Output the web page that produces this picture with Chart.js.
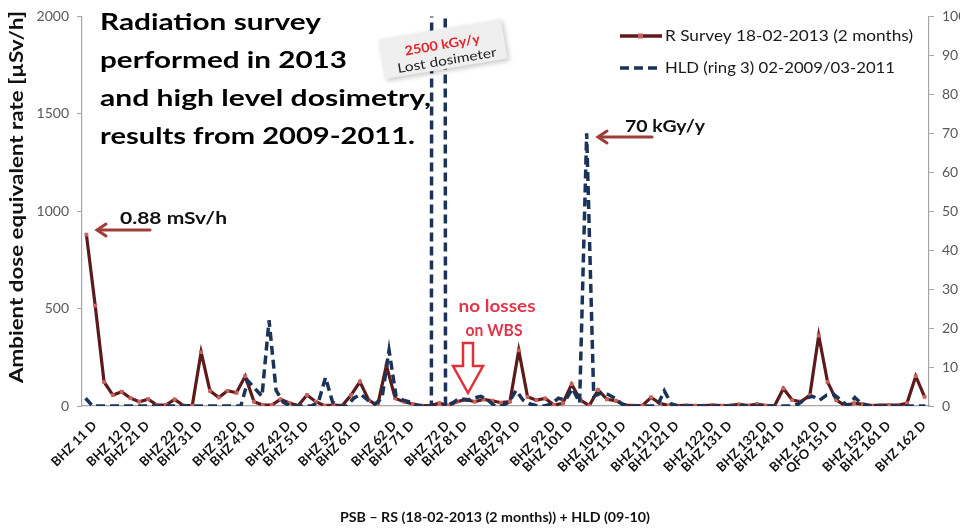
<!DOCTYPE html>
<html>
<head>
<meta charset="utf-8">
<script src="https://cdn.jsdelivr.net/npm/chart.js@4.4.1/dist/chart.umd.min.js"></script>
<style>
  html, body { margin: 0; padding: 0; background: #ffffff; overflow: hidden; width: 960px; height: 529px; }
  #wrap { width: 985px; height: 529px; }
</style>
</head>
<body>
<div id="wrap"><canvas id="c" width="985" height="529"></canvas></div>
<script>
// Survey positions along the ring (unlabelled slots are intermediate measuring points)
const categories = [
  'BHZ 11 D', '', '', '', 'BHZ 12 D', '', 'BHZ 21 D', '', '', '',
  'BHZ 22 D', '', 'BHZ 31 D', '', '', '', 'BHZ 32 D', '', 'BHZ 41 D', '',
  '', '', 'BHZ 42 D', '', 'BHZ 51 D', '', '', '', 'BHZ 52 D', '',
  'BHZ 61 D', '', '', '', 'BHZ 62 D', '', 'BHZ 71 D', '', '', '',
  'BHZ 72 D', '', 'BHZ 81 D', '', '', '', 'BHZ 82 D', '', 'BHZ 91 D', '',
  '', '', 'BHZ 92 D', '', 'BHZ 101 D', '', '', '', 'BHZ 102 D', '',
  'BHZ 111 D', '', '', '', 'BHZ 112 D', '', 'BHZ 121 D', '', '', '',
  'BHZ 122 D', '', 'BHZ 131 D', '', '', '', 'BHZ 132 D', '', 'BHZ 141 D', '',
  '', '', 'BHZ 142 D', '', 'QFO 151 D', '', '', '', 'BHZ 152 D', '',
  'BHZ 161 D', '', '', '', 'BHZ 162 D', ''
];

// Radiation survey 18-02-2013, ambient dose equivalent rate [µSv/h]
const surveyRate = [
  880, 515, 124, 56, 73, 40, 22, 35, 5, 5,
  34, 2, 2, 277, 78, 44, 78, 68, 153, 22,
  5, 5, 34, 15, 2, 56, 22, 2, 5, 2,
  56, 124, 30, 2, 209, 39, 22, 10, 2, 2,
  14, 2, 22, 34, 22, 34, 27, 17, 22, 286,
  47, 30, 39, 5, 14, 112, 30, 2, 82, 34,
  27, 5, 2, 2, 44, 14, 2, 2, 3, 2,
  2, 4, 2, 3, 8, 2, 10, 2, 1, 90,
  30, 22, 56, 362, 124, 30, 2, 14, 10, 2,
  5, 5, 5, 14, 153, 47
];

// High level dosimetry, ring 3, 02-2009 to 03-2011 [kGy/y]
const hldDose = [
  2, 0, 0, 0, 0, 0, 0, 0, 0, 0,
  0, 0, 0, 0, 0, 0, 0, 0, 0, 0,
  0, 0, 0, 6.5, 4.5, 2.5, 22, 4, 1, 0,
  0, 0, 0, 1, 7.3, 1, 0, 0, 2, 3,
  1.5, 0.5, 2, 14.3, 2.5, 1.5, 1, 0, 0, 0,
  2500, 0, 0.8, 2, 1.5, 2, 2.5, 1.5, 0, 0,
  1, 4, 1.5, 0.5, 0, 0, 0.5, 2, 1.5, 4.5,
  0.8, 70, 2.5, 3.3, 3, 2, 0.5, 0, 0, 0,
  0, 0, 3.9, 0.5, 0, 0, 0, 0, 0, 0,
  0, 0, 0, 0, 0, 0, 0, 0, 0, 0,
  0, 0.5, 2, 2.5, 1.5, 2.8, 3, 1.5, 0, 2.2,
  0.5, 0, 0, 0, 0, 0, 0, 0, 0, 0
];
const hldDosimeters = hldDose.map((_, i) => 'HLD ' + (i + 1));

const titleLines = ['Radiation survey', 'performed in 2013', 'and high level dosimetry,', 'results from 2009-2011.'];
const surveyLabel = 'R Survey 18-02-2013 (2 months)';
const hldLabel = 'HLD (ring 3) 02-2009/03-2011';
const yTitle = 'Ambient dose equivalent rate [\u00B5Sv/h]';
const caption = 'PSB \u2013 RS (18-02-2013 (2 months)) + HLD (09-10)';

const MAROON = '#5c1a1a';
const SALMON = '#c9625d';
const NAVY = '#1b3358';
const ARROW = '#a03c38';
const FONT = 'Lato, "Open Sans", sans-serif';

// Draw text stretched horizontally to a given width
function fitText(ctx, text, x, y, width, align) {
  const w = ctx.measureText(text).width;
  const left = align === 'center' ? x - width / 2 : x;
  ctx.save();
  ctx.translate(left, y);
  ctx.scale(width / w, 1);
  ctx.textAlign = 'left';
  ctx.fillText(text, 0, 0);
  ctx.restore();
}

function arrowLeft(ctx, x1, x2, y) {
  ctx.save();
  ctx.strokeStyle = ARROW;
  ctx.lineWidth = 3;
  ctx.lineCap = 'round';
  ctx.beginPath();
  ctx.moveTo(x1, y);
  ctx.lineTo(x2 + 1, y);
  ctx.stroke();
  ctx.beginPath();
  ctx.moveTo(x2 + 9, y - 6);
  ctx.lineTo(x2, y);
  ctx.lineTo(x2 + 9, y + 6);
  ctx.stroke();
  ctx.restore();
}

const overlay = {
  id: 'overlay',
  afterDraw(chart) {
    const ctx = chart.ctx;
    ctx.save();

    // heading
    ctx.fillStyle = '#000';
    ctx.font = 'bold 23px ' + FONT;
    ctx.textBaseline = 'alphabetic';
    const baselines = [29.5, 68, 106, 143.5];
    const widths = [221, 247, 331, 315];
    titleLines.forEach((t, i) => fitText(ctx, t, 100, baselines[i], widths[i], 'left'));

    // left axis title
    ctx.save();
    ctx.translate(17, 197);
    ctx.rotate(-Math.PI / 2);
    ctx.font = 'bold 19px ' + FONT;
    ctx.textBaseline = 'middle';
    ctx.fillStyle = '#111';
    fitText(ctx, yTitle, 0, 0, 372, 'center');
    ctx.restore();

    // legend
    ctx.lineCap = 'butt';
    ctx.strokeStyle = MAROON;
    ctx.lineWidth = 3.5;
    ctx.beginPath(); ctx.moveTo(620, 36); ctx.lineTo(662, 36); ctx.stroke();
    ctx.fillStyle = SALMON;
    ctx.fillRect(638, 33.5, 5, 5);
    ctx.strokeStyle = NAVY;
    ctx.setLineDash([9, 5]);
    ctx.beginPath(); ctx.moveTo(620, 68); ctx.lineTo(658, 68); ctx.stroke();
    ctx.setLineDash([]);
    ctx.fillStyle = '#1a1a1a';
    ctx.font = '16px ' + FONT;
    ctx.textBaseline = 'middle';
    fitText(ctx, surveyLabel, 665, 36, 248, 'left');
    fitText(ctx, hldLabel, 665, 68, 230, 'left');

    // peak call-outs
    ctx.fillStyle = '#111';
    ctx.font = 'bold 17px ' + FONT;
    fitText(ctx, '0.88 mSv/h', 120, 219, 107, 'left');
    arrowLeft(ctx, 150, 97, 230);
    fitText(ctx, '70 kGy/y', 625, 127, 80, 'left');
    arrowLeft(ctx, 652, 598, 137);

    // lost dosimeter tag
    ctx.save();
    ctx.translate(443, 49);
    ctx.rotate(-9.5 * Math.PI / 180);
    ctx.shadowColor = 'rgba(0,0,0,0.22)';
    ctx.shadowBlur = 5;
    ctx.shadowOffsetX = 2;
    ctx.shadowOffsetY = 2;
    ctx.fillStyle = '#efefef';
    ctx.fillRect(-62, -20, 124, 40);
    ctx.shadowColor = 'transparent';
    ctx.fillStyle = '#e3262b';
    ctx.font = 'bold 13px ' + FONT;
    fitText(ctx, '2500 kGy/y', 0, -4, 76, 'center');
    ctx.fillStyle = '#222';
    ctx.font = '13px ' + FONT;
    fitText(ctx, 'Lost dosimeter', 2, 12, 100, 'center');
    ctx.restore();

    // WBS note and hollow arrow
    ctx.fillStyle = '#e0354a';
    ctx.font = 'bold 17px ' + FONT;
    fitText(ctx, 'no losses', 497, 307, 77, 'center');
    fitText(ctx, 'on WBS', 494, 331, 57, 'center');
    ctx.beginPath();
    ctx.moveTo(463, 343); ctx.lineTo(473, 343); ctx.lineTo(473, 366);
    ctx.lineTo(483, 366); ctx.lineTo(468, 393); ctx.lineTo(453, 366);
    ctx.lineTo(463, 366); ctx.closePath();
    ctx.fillStyle = '#ffffff';
    ctx.fill();
    ctx.strokeStyle = '#e0303a';
    ctx.lineWidth = 2.5;
    ctx.lineJoin = 'miter';
    ctx.stroke();

    // caption
    ctx.fillStyle = '#111';
    ctx.font = 'bold 13px ' + FONT;
    fitText(ctx, caption, 495, 518, 310, 'center');

    ctx.restore();
  }
};

const axisGrey = '#a6a6a6';
const tickFont = { family: FONT, size: 14 };

new Chart(document.getElementById('c'), {
  type: 'line',
  data: {
    labels: categories,
    datasets: [
      {
        label: hldLabel,
        data: hldDose,
        xAxisID: 'x2',
        yAxisID: 'y1',
        borderColor: NAVY,
        borderWidth: 3.5,
        borderDash: [9, 5],
        pointRadius: 0,
        tension: 0,
        fill: false,
        order: 0
      },
      {
        label: surveyLabel,
        data: surveyRate,
        xAxisID: 'x',
        yAxisID: 'y',
        borderColor: MAROON,
        borderWidth: 3.2,
        pointStyle: 'rect',
        pointRadius: 2.7,
        pointBackgroundColor: SALMON,
        pointBorderWidth: 0,
        tension: 0,
        fill: false,
        order: 1
      }
    ]
  },
  options: {
    responsive: false,
    animation: false,
    devicePixelRatio: 1,
    layout: { padding: { top: 14, left: 0, right: 0, bottom: 0 } },
    plugins: { legend: { display: false }, tooltip: { enabled: false }, title: { display: false } },
    scales: {
      x: {
        type: 'category',
        position: 'bottom',
        offset: true,
        grid: { display: false, drawTicks: false },
        border: { display: true, color: axisGrey, width: 1.2 },
        ticks: {
          autoSkip: false, maxRotation: 45, minRotation: 45, padding: 12, labelOffset: 8,
          color: '#111', font: { family: FONT, size: 13, weight: 'bold' }
        },
        afterFit: s => { s.height = 123; }
      },
      x2: {
        type: 'category',
        labels: hldDosimeters,
        offset: true,
        display: false
      },
      y: {
        position: 'left',
        min: 0, max: 2000,
        ticks: { stepSize: 500, padding: 8, color: '#595959', font: tickFont, callback: v => String(v) },
        grid: { drawOnChartArea: false, tickLength: 5, color: axisGrey },
        border: { display: true, color: axisGrey, width: 1.2 },
        afterFit: s => { s.width = 82; }
      },
      y1: {
        position: 'right',
        min: 0, max: 100,
        ticks: { stepSize: 10, padding: 8, color: '#595959', font: tickFont, callback: v => String(v) },
        grid: { drawOnChartArea: false, tickLength: 5, color: axisGrey },
        border: { display: true, color: axisGrey, width: 1.2 },
        afterFit: s => { s.width = 985 - 929; }
      }
    }
  },
  plugins: [overlay]
});
</script>
</body>
</html>
